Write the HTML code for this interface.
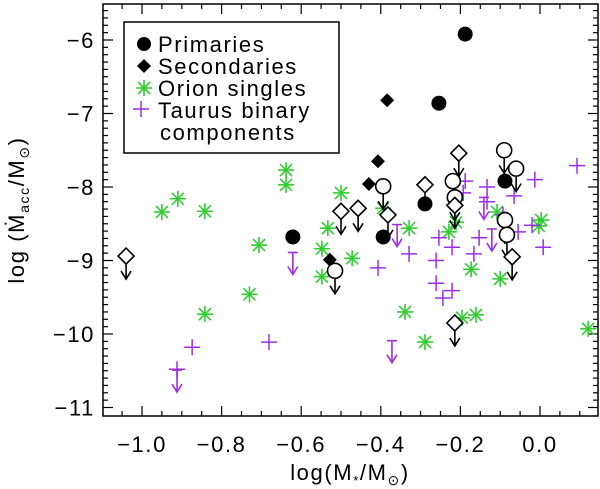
<!DOCTYPE html>
<html><head><meta charset="utf-8"><style>
body{margin:0;background:#fff;}
svg{display:block;font-family:"Liberation Sans",sans-serif;}
text{letter-spacing:1.6px;}
</style></head><body>
<svg id="chart" width="600" height="489" viewBox="0 0 600 489"></svg>
<script>
const xTicks=[-1.0,-0.8,-0.6,-0.4,-0.2,0.0];
const xTickLabels=["\u22121.0","\u22120.8","\u22120.6","\u22120.4","\u22120.2","0.0"];
const yTicks=[-11,-10,-9,-8,-7,-6];
const yTickLabels=["\u221211","\u221210","\u22129","\u22128","\u22127","\u22126"];
const primX=[-0.188,-0.254,-0.088,-0.289,-0.394,-0.621];
const primY=[-5.92,-6.86,-7.92,-8.23,-8.68,-8.68];
const primLimX=[-0.09,-0.06,-0.219,-0.394,-0.214,-0.088,-0.083,-0.515];
const primLimY=[-7.5,-7.75,-7.92,-7.99,-8.14,-8.45,-8.65,-9.14];
const secX=[-0.384,-0.407,-0.43,-0.528];
const secY=[-6.82,-7.65,-7.96,-8.99];
const secLimX=[-0.204,-0.289,-0.5,-0.457,-0.382,-0.214,-0.07,-0.214,-1.04];
const secLimY=[-7.54,-7.97,-8.33,-8.29,-8.38,-8.25,-8.95,-9.85,-8.94];
const orionX=[-0.95,-0.91,-0.842,-0.638,-0.638,-0.706,-0.73,-0.842,-0.533,-0.548,-0.548,-0.5,-0.472,-0.394,-0.329,-0.339,-0.289,-0.229,-0.211,-0.173,-0.108,-0.1,-0.196,-0.161,0.003,-0.003,0.121];
const orionY=[-8.34,-8.16,-8.33,-7.77,-7.97,-8.79,-9.46,-9.73,-8.56,-8.84,-9.22,-8.08,-8.97,-8.29,-8.56,-9.70,-10.11,-8.61,-8.48,-9.12,-8.34,-9.25,-9.78,-9.74,-8.45,-8.53,-9.93];
const taurX=[-0.188,-0.193,-0.133,-0.133,-0.065,-0.013,0.093,-0.02,-0.055,0.008,-0.153,-0.166,-0.221,-0.254,-0.261,-0.261,-0.244,-0.221,-0.329,-0.407,-0.093,-0.681,-0.874,-0.912];
const taurY=[-7.92,-8.08,-8.0,-8.2,-8.12,-7.9,-7.71,-8.52,-8.61,-8.82,-8.69,-8.91,-8.82,-8.69,-9.0,-9.31,-9.51,-9.41,-8.91,-9.1,-8.38,-10.11,-10.18,-10.48];
const taurLimX=[-0.912,-0.621,-0.359,-0.372,-0.141,-0.121];
const taurLimY=[-10.6,-9.0,-8.62,-10.2,-8.25,-8.68];

const L=103,R=598,T=4,B=416;
function sx(v){return 540+398*v;}
function sy(v){return 187-73.5*(v+8);}
const svg=document.getElementById('chart');
const NS='http://www.w3.org/2000/svg';
function mk(tag,attrs,parent){const e=document.createElementNS(NS,tag);for(const k in attrs)e.setAttribute(k,attrs[k]);(parent||svg).appendChild(e);return e;}
const PUR='#9a30e6',GRN='#33cc33';

const frame=mk('rect',{x:L,y:T,width:R-L,height:B-T,fill:'none',stroke:'#000','stroke-width':1.5});


for(let v=-1.1;v<=0.151;v+=0.05){
  const r=Math.round(v*100)/100;const px=sx(r);if(px<L||px>R)continue;
  const major=Math.abs(r*10-Math.round(r*10))<1e-6&&Math.round(r*10)%2===0;
  const len=major?10:5;
  mk('line',{x1:px,x2:px,y1:B,y2:B-len,stroke:'#000','stroke-width':1.2});
  mk('line',{x1:px,x2:px,y1:T,y2:T+len,stroke:'#000','stroke-width':1.2});
}
for(let i=-110;i<=-55;i++){
  const v=i/10;const py=sy(v);if(py<T||py>B)continue;
  const len=(i%10===0)?10:5;
  mk('line',{x1:L,x2:L+len,y1:py,y2:py,stroke:'#000','stroke-width':1.2});
  mk('line',{x1:R,x2:R-len,y1:py,y2:py,stroke:'#000','stroke-width':1.2});
}
xTicks.forEach((v,i)=>{
  const t=mk('text',{x:sx(v),y:452,'text-anchor':'middle','font-size':22,fill:'#000'});
  t.textContent=xTickLabels[i];
  
  
});
yTicks.forEach((v,i)=>{
  const t=mk('text',{x:95,y:sy(v)+8,'text-anchor':'end','font-size':22,fill:'#000'});
  t.textContent=yTickLabels[i];
  
  
});
const xt=mk('text',{x:350,y:480,'text-anchor':'middle','font-size':22,fill:'#000'});
xt.innerHTML='log(M<tspan font-size="13" dy="5">*</tspan><tspan dy="-5">/M</tspan><tspan font-size="14" dy="5">\u2299</tspan><tspan dy="-5">)</tspan>';


const yt=mk('text',{x:0,y:0,'text-anchor':'middle','font-size':22,fill:'#000',transform:'translate(24,210) rotate(-90)'});
yt.innerHTML='log (M\u0307<tspan font-size="14" dy="5">acc</tspan><tspan dy="-5">/M</tspan><tspan font-size="14" dy="5">\u2299</tspan><tspan dy="-5">)</tspan>';



function arrow(x,y0,len,col,bar){
  const g=mk('g',{stroke:col,'stroke-width':1.6,fill:'none'});
  if(bar)mk('line',{x1:x-5,x2:x+5,y1:y0,y2:y0},g);
  mk('line',{x1:x,x2:x,y1:y0,y2:y0+len},g);
  mk('polyline',{points:`${x-5},${y0+len-8} ${x},${y0+len} ${x+5},${y0+len-8}`},g);
  return g;
}
function star(x,y,col,g){
  const s=8;
  mk('line',{x1:x-s,x2:x+s,y1:y,y2:y,stroke:col,'stroke-width':1.6},g);
  mk('line',{x1:x,x2:x,y1:y-s,y2:y+s,stroke:col,'stroke-width':1.6},g);
  mk('line',{x1:x-s*.75,x2:x+s*.75,y1:y-s*.75,y2:y+s*.75,stroke:col,'stroke-width':1.6},g);
  mk('line',{x1:x-s*.75,x2:x+s*.75,y1:y+s*.75,y2:y-s*.75,stroke:col,'stroke-width':1.6},g);
}
function plus(x,y,col,g){
  mk('line',{x1:x-8,x2:x+8,y1:y,y2:y,stroke:col,'stroke-width':1.5},g);
  mk('line',{x1:x,x2:x,y1:y-8,y2:y+8,stroke:col,'stroke-width':1.5},g);
}
orionX.forEach((v,i)=>{const g=mk('g',{});star(sx(v),sy(orionY[i]),GRN,g);});
taurX.forEach((v,i)=>{const g=mk('g',{});plus(sx(v),sy(taurY[i]),PUR,g);});
taurLimX.forEach((v,i)=>{const g=arrow(sx(v),sy(taurLimY[i])-8,22,PUR,true);});
primX.forEach((v,i)=>{const c=mk('circle',{cx:sx(v),cy:sy(primY[i]),r:7.5,fill:'#000'});});
secX.forEach((v,i)=>{const x=sx(v),y=sy(secY[i]);const p=mk('polygon',{points:`${x},${y-7} ${x+7},${y} ${x},${y+7} ${x-7},${y}`,fill:'#000'});});
primLimX.forEach((v,i)=>{const x=sx(v),y=sy(primLimY[i]);const g=arrow(x,y,23,'#000',false);mk('circle',{cx:x,cy:y,r:7.5,fill:'#fff',stroke:'#000','stroke-width':1.6},g);});
secLimX.forEach((v,i)=>{const x=sx(v),y=sy(secLimY[i]);const g=arrow(x,y,23,'#000',false);mk('polygon',{points:`${x},${y-8} ${x+8},${y} ${x},${y+8} ${x-8},${y}`,fill:'#fff',stroke:'#000','stroke-width':1.6},g);});

const lg=mk('g',{});


mk('rect',{x:124,y:22,width:215,height:131,fill:'#fff',stroke:'#000','stroke-width':1.5},lg);
mk('circle',{cx:144,cy:44,r:7,fill:'#000'},lg);
mk('polygon',{points:'144,59 151,66 144,73 137,66',fill:'#000'},lg);
star(144,88,GRN,lg);
plus(141,109,PUR,lg);
const labs=[['Primaries',52],['Secondaries',74],['Orion singles',96],['Taurus binary',118],['components',140]];
labs.forEach(([s,y],i)=>{const t=mk('text',{x:i===4?160:158,y:y,'font-size':22,fill:'#000'},lg);t.textContent=s;});
</script>
</body></html>
